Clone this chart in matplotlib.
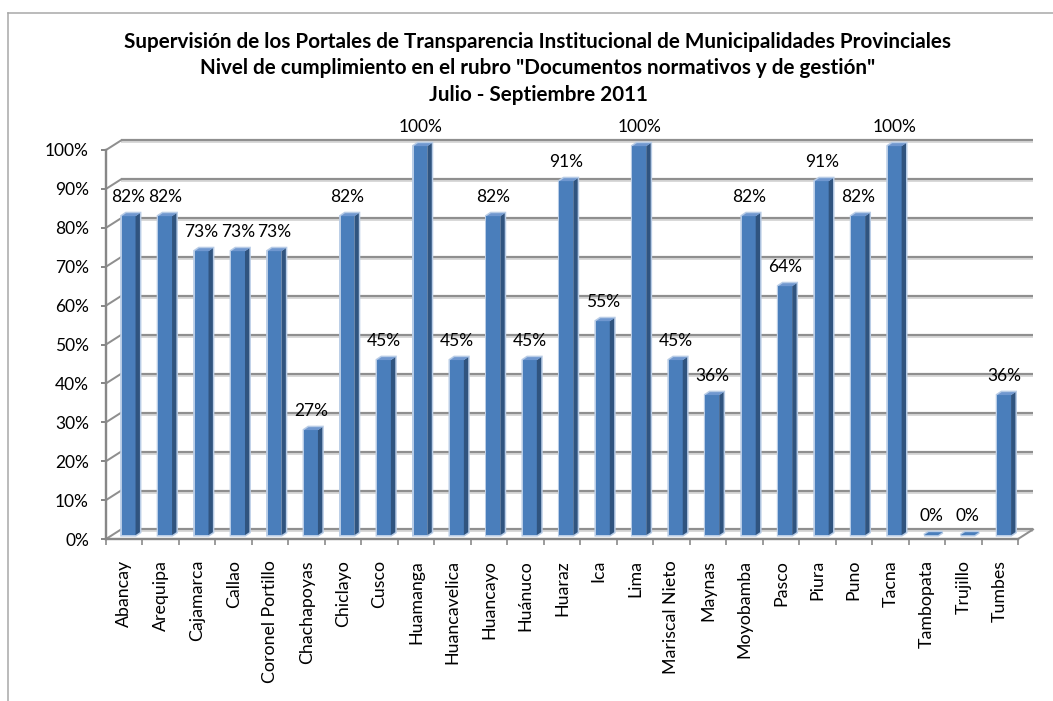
import matplotlib
matplotlib.use('Agg')
import matplotlib.pyplot as plt
from matplotlib.patches import Polygon
from matplotlib.lines import Line2D

# ---------------- data ----------------
title_lines = [
    'Supervisión de los Portales de Transparencia Institucional de Municipalidades Provinciales',
    'Nivel de cumplimiento en el rubro "Documentos normativos y de gestión"',
    'Julio - Septiembre 2011',
]
categories = ['Abancay', 'Arequipa', 'Cajamarca', 'Callao', 'Coronel Portillo',
              'Chachapoyas', 'Chiclayo', 'Cusco', 'Huamanga', 'Huancavelica',
              'Huancayo', 'Huánuco', 'Huaraz', 'Ica', 'Lima', 'Mariscal Nieto',
              'Maynas', 'Moyobamba', 'Pasco', 'Piura', 'Puno', 'Tacna',
              'Tambopata', 'Trujillo', 'Tumbes']
values = [82, 82, 73, 73, 73, 27, 82, 45, 100, 45, 82, 45, 91, 55, 100, 45,
          36, 82, 64, 91, 82, 100, 0, 0, 36]
y_ticks = list(range(0, 101, 10))
y_tick_labels = [f'{t}%' for t in y_ticks]
value_labels = [f'{v}%' for v in values]

# ---------------- style ----------------
W, H = 1053, 701
plt.rcParams['font.family'] = ['Lato', 'DejaVu Sans']
fig = plt.figure(figsize=(W / 100, H / 100), dpi=100)
fig.patch.set_facecolor('white')
renderer = fig.canvas.get_renderer()


def fit_size(text, target_px, weight='normal', base=12.0):
    t = fig.text(0, 0, text, fontsize=base, fontweight=weight)
    w = t.get_window_extent(renderer).width
    t.remove()
    return base * target_px / w


title_fs = fit_size(title_lines[0], 820, 'bold')
xlab_fs = fit_size('Coronel Portillo', 123)
num_fs = fit_size('100%', 44)

PX = 1.0 / 100 * 72  # points per pixel

# outer frame (left and top edges)
frame_col = '#a6a6a6'
fig.add_artist(Line2D([8 / W, 8 / W], [0, 1 - 13 / H], color=frame_col, lw=1.5 * PX * 1.0))
fig.add_artist(Line2D([8 / W, 1], [1 - 13 / H, 1 - 13 / H], color=frame_col, lw=1.5 * PX))

# title
for k, (line, yc) in enumerate(zip(title_lines, [42, 68, 95])):
    fig.text(538 / W, 1 - yc / H, line, ha='center', va='center',
             fontsize=title_fs, fontweight='bold', color='black')

# axes (front plane of the 3-D box)
ax = fig.add_axes([106 / W, (H - 539) / H, 912 / W, 389 / H])
ax.set_xlim(-0.5, len(categories) - 0.5)
ax.set_ylim(0, 100)
ax.patch.set_alpha(0)
for s in ['top', 'right']:
    ax.spines[s].set_visible(False)
axis_col = '#878787'
for s in ['left', 'bottom']:
    ax.spines[s].set_color(axis_col)
    ax.spines[s].set_linewidth(2.4 * PX)
    ax.spines[s].set_zorder(6)

ax.set_yticks(y_ticks)
ax.set_yticklabels(y_tick_labels, fontsize=num_fs)
ax.tick_params(axis='y', length=5 * PX, width=2 * PX, color=axis_col, pad=12 * PX)

ax.set_xticks(range(len(categories)))
ax.set_xticklabels(categories, rotation=90, fontsize=xlab_fs)
ax.set_xticks([i - 0.5 for i in range(len(categories) + 1)], minor=True)
ax.tick_params(axis='x', which='major', length=0, pad=21 * PX)
ax.tick_params(axis='x', which='minor', length=6 * PX, width=1.6 * PX, color=axis_col)

# back wall offset (depth) in data units
DX, DY = 0.411, 2.45
grid_col = '#8f8f8f'
xl0, xl1 = -0.5, len(categories) - 0.5
for t in y_ticks:
    # soft halo
    ax.plot([xl0 + DX, xl1 + DX], [t + DY - 0.25, t + DY - 0.25], color='#d9d9d9',
            lw=4 * PX, clip_on=False, zorder=1, solid_capstyle='butt')
    ax.plot([xl0 + DX, xl1 + DX], [t + DY, t + DY], color=grid_col,
            lw=2.2 * PX, clip_on=False, zorder=2, solid_capstyle='butt')
    # spur from front axis to back wall
    ax.plot([xl0, xl0 + DX], [t, t + DY], color=grid_col, lw=2 * PX,
            clip_on=False, zorder=2)
# right edge of floor
ax.plot([xl1, xl1 + DX], [0, DY], color=grid_col, lw=2 * PX, clip_on=False, zorder=2)

# bars
FX0, FX1 = -0.07, 0.31   # front face horizontal extent
SDX, SDY = 0.12, 0.75    # bar depth offset
OFF = 1.0                # bar placed mid-depth
front_col = '#4a7ebb'
side_col = '#30547f'
top_col = '#6f97cf'
halo_col = '#b8cce6'
for i, v in enumerate(values):
    x0, x1 = i + FX0, i + FX1
    b, t = OFF, v + OFF
    sil = [(x0, b), (x1, b), (x1 + SDX, b + SDY), (x1 + SDX, t + SDY),
           (x0 + SDX, t + SDY), (x0, t)]
    ax.add_patch(Polygon(sil, closed=True, facecolor=halo_col, edgecolor=halo_col,
                         lw=3 * PX, zorder=3, clip_on=False))
    if v > 0:
        ax.add_patch(Polygon([(x0, b), (x1, b), (x1, t), (x0, t)], closed=True,
                             facecolor=front_col, edgecolor='none', zorder=4, clip_on=False))
        ax.add_patch(Polygon([(x1, b), (x1 + SDX, b + SDY), (x1 + SDX, t + SDY), (x1, t)],
                             closed=True, facecolor=side_col, edgecolor='none',
                             zorder=4, clip_on=False))
    ax.add_patch(Polygon([(x0, t), (x1, t), (x1 + SDX, t + SDY), (x0 + SDX, t + SDY)],
                         closed=True, facecolor=top_col if v > 0 else front_col,
                         edgecolor='none', zorder=4, clip_on=False))
    ax.text(i + 0.12, v + 5.8, value_labels[i], ha='center', va='center',
            fontsize=num_fs, color='black', zorder=7, clip_on=False)

fig.savefig('out.png', dpi=100, facecolor='white')
